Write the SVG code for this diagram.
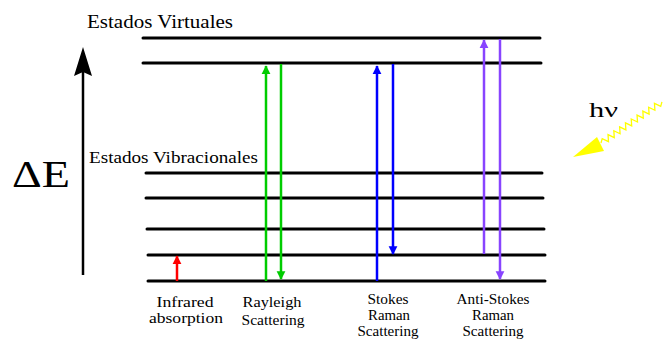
<svg xmlns="http://www.w3.org/2000/svg" width="666" height="339" viewBox="0 0 666 339">
<style>
.lvl{stroke:#000;stroke-width:3;stroke-linecap:round}
.t{fill:#000}
.lbl{font-size:15px;text-anchor:middle;fill:#000}
.v{stroke-width:2.5;fill:none}
</style>
<defs>
<marker id="mr" viewBox="0 0 10 10" refX="9" refY="5" markerWidth="3.5" markerHeight="4" orient="auto" markerUnits="strokeWidth"><path d="M0,0L10,5L0,10z" fill="#ff0000"/></marker>
<marker id="mg" viewBox="0 0 10 10" refX="9" refY="5" markerWidth="3.5" markerHeight="4" orient="auto" markerUnits="strokeWidth"><path d="M0,0L10,5L0,10z" fill="#00cc00"/></marker>
<marker id="mb" viewBox="0 0 10 10" refX="9" refY="5" markerWidth="3.5" markerHeight="4" orient="auto" markerUnits="strokeWidth"><path d="M0,0L10,5L0,10z" fill="#0000ff"/></marker>
<marker id="mp" viewBox="0 0 10 10" refX="9" refY="5" markerWidth="3.5" markerHeight="4" orient="auto" markerUnits="strokeWidth"><path d="M0,0L10,5L0,10z" fill="#8844ff"/></marker>
</defs>
<g id="levels">
<line class="lvl" x1="143" y1="38" x2="540" y2="38"/>
<line class="lvl" x1="143" y1="63" x2="541" y2="63"/>
<line class="lvl" x1="146" y1="173" x2="542" y2="173"/>
<line class="lvl" x1="146" y1="198" x2="543" y2="198"/>
<line class="lvl" x1="147" y1="229" x2="544" y2="229"/>
<line class="lvl" x1="148" y1="255" x2="545" y2="255"/>
<line class="lvl" x1="148" y1="281" x2="545" y2="281"/>
</g>
<g id="energy-axis">
<line x1="83" y1="275" x2="83" y2="70" stroke="#000" stroke-width="2.5"/>
<path d="M83,47L92,76L83,72L74,76z" fill="#000"/>
<text class="t" x="12" y="187" font-size="38" textLength="58" lengthAdjust="spacingAndGlyphs" font-family="Liberation Serif, Times New Roman, DejaVu Serif, serif">ΔE</text>
</g>
<g font-family="Liberation Serif, Times New Roman, DejaVu Serif, serif" lengthAdjust="spacingAndGlyphs">
<text class="t" x="87" y="28" font-size="19" textLength="146" lengthAdjust="spacingAndGlyphs">Estados Virtuales</text>
<text class="t" x="89" y="163" font-size="16.5" textLength="169" lengthAdjust="spacingAndGlyphs">Estados Vibracionales</text>
</g>
<g id="connectors">
<line class="v" x1="177" y1="281" x2="177" y2="256" stroke="#ff0000" marker-end="url(#mr)"/>
<line class="v" x1="266" y1="281" x2="266" y2="66" stroke="#00cc00" marker-end="url(#mg)"/>
<line class="v" x1="281" y1="64" x2="281" y2="279" stroke="#00cc00" marker-end="url(#mg)"/>
<line class="v" x1="377" y1="281" x2="377" y2="66" stroke="#0000ff" marker-end="url(#mb)"/>
<line class="v" x1="393" y1="64" x2="393" y2="254" stroke="#0000ff" marker-end="url(#mb)"/>
<line class="v" x1="484" y1="254" x2="484" y2="40" stroke="#8844ff" marker-end="url(#mp)"/>
<line class="v" x1="500" y1="39" x2="500" y2="279" stroke="#8844ff" marker-end="url(#mp)"/>
</g>
<g id="photon">
<text class="t" x="589" y="117" font-size="21" textLength="29" lengthAdjust="spacingAndGlyphs" font-family="Liberation Serif, Times New Roman, DejaVu Serif, serif">hν</text>
<g transform="translate(601,143) rotate(-34)">
<path d="M0,0 l3.5,-3 l3.5,6 l3.5,-6 l3.5,6 l3.5,-6 l3.5,6 l3.5,-6 l3.5,6 l3.5,-6 l3.5,6 l3.5,-6 l3.5,6 l3.5,-6 l3.5,6 l3.5,-6 l3.5,6 l3.5,-6 l3.5,6 l3.5,-6 l3.5,6 l3.5,-3" fill="none" stroke="#ffff00" stroke-width="1.3"/>
</g>
<path d="M573,157L597,137L604,151z" fill="#ffff00"/>
</g>
<g id="labels" font-family="Liberation Serif, Times New Roman, DejaVu Serif, serif">
<text class="lbl" x="185" y="307" textLength="57" lengthAdjust="spacingAndGlyphs">Infrared</text>
<text class="lbl" x="186" y="323" textLength="74" lengthAdjust="spacingAndGlyphs">absorption</text>
<text class="lbl" x="272" y="307" textLength="59" lengthAdjust="spacingAndGlyphs">Rayleigh</text>
<text class="lbl" x="273" y="325" textLength="63" lengthAdjust="spacingAndGlyphs">Scattering</text>
<text class="lbl" x="388" y="304" textLength="41" lengthAdjust="spacingAndGlyphs">Stokes</text>
<text class="lbl" x="389" y="320" textLength="42" lengthAdjust="spacingAndGlyphs">Raman</text>
<text class="lbl" x="388" y="336" textLength="61" lengthAdjust="spacingAndGlyphs">Scattering</text>
<text class="lbl" x="493" y="304" textLength="73" lengthAdjust="spacingAndGlyphs">Anti-Stokes</text>
<text class="lbl" x="493" y="320" textLength="42" lengthAdjust="spacingAndGlyphs">Raman</text>
<text class="lbl" x="493" y="336" textLength="61" lengthAdjust="spacingAndGlyphs">Scattering</text>
</g>
</svg>
